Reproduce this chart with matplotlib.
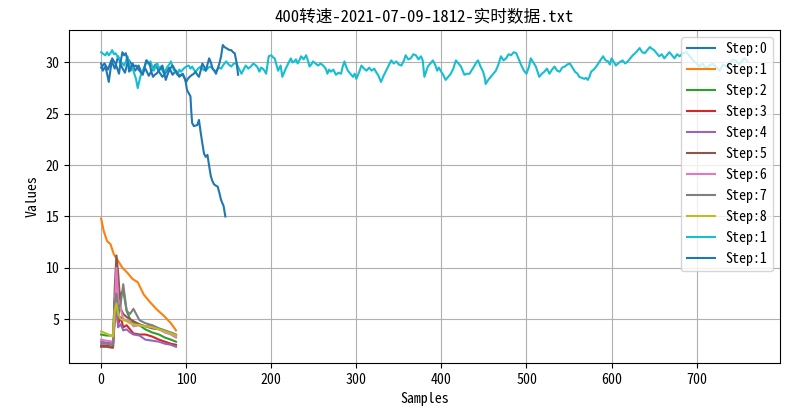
import matplotlib
matplotlib.use('Agg')
import matplotlib.pyplot as plt

plt.rcParams['font.family'] = ['Noto Sans Mono CJK SC', 'Noto Sans CJK SC', 'DejaVu Sans']

title = '400转速-2021-07-09-1812-实时数据.txt'
labels = ['Step:0', 'Step:1', 'Step:2', 'Step:3', 'Step:4', 'Step:5',
          'Step:6', 'Step:7', 'Step:8', 'Step:1', 'Step:1']

# Step:0 - hovers near 30 then falls off
step0_x = [0, 4, 8, 12, 16, 20, 24, 28, 32, 36, 40, 44, 48, 52, 56, 60, 64, 68, 72, 76,
           80, 84, 88, 92, 96, 99, 101, 103, 105, 106, 107, 109, 113, 115, 117, 119, 121,
           123, 125, 127, 129, 131, 133, 137, 139, 141, 144, 146]
step0_y = [29.5, 29.9, 29.3, 30.2, 29.4, 30.6, 29.6, 29.0, 30.3, 29.8, 29.2, 29.7, 28.9,
           29.4, 28.7, 29.3, 29.8, 29.1, 28.6, 29.0, 29.5, 28.8, 29.2, 28.7, 28.8, 28.3,
           27.3, 27.0, 26.7, 25.2, 24.1, 23.8, 23.9, 24.4, 23.2, 22.1, 21.1, 20.8, 21.0,
           19.9, 18.9, 18.4, 18.1, 17.9, 17.3, 16.6, 16.0, 15.0]

# low steps, samples 0..88
step1_x = [0, 3, 7, 11, 15, 19, 25, 31, 37, 43, 50, 58, 66, 74, 82, 88]
step1_y = [14.8, 13.6, 12.6, 12.3, 11.3, 10.8, 10.0, 9.5, 8.9, 8.6, 7.4, 6.6, 5.9, 5.3, 4.6, 3.9]

low_x = [0, 6, 14, 16, 18, 20, 23, 26, 30, 34, 38, 45, 52, 60, 68, 75, 82, 88]
step2_y = [3.5, 3.4, 3.4, 7.0, 6.0, 5.0, 7.5, 7.8, 5.8, 5.0, 4.6, 4.4, 4.0, 3.7, 3.5, 3.2, 3.0, 2.8]
step3_y = [2.4, 2.4, 2.3, 5.0, 6.0, 4.5, 5.2, 4.2, 4.4, 4.0, 3.6, 3.5, 3.5, 3.3, 3.0, 2.8, 2.6, 2.5]
step4_y = [2.8, 2.7, 2.7, 5.0, 6.3, 4.2, 4.5, 3.9, 4.0, 3.7, 3.5, 3.4, 3.0, 2.9, 2.8, 2.6, 2.5, 2.3]
step5_y = [2.3, 2.3, 2.2, 8.0, 11.2, 9.5, 6.0, 5.5, 5.2, 5.0, 4.8, 4.5, 4.3, 4.1, 4.0, 3.8, 3.6, 3.4]
step6_y = [3.0, 2.9, 2.8, 6.0, 10.0, 7.0, 6.0, 5.0, 4.9, 4.8, 4.3, 4.4, 4.3, 4.4, 4.0, 3.7, 3.5, 3.2]
step7_y = [2.6, 2.6, 2.5, 6.5, 7.5, 6.0, 6.5, 8.4, 5.8, 5.5, 6.0, 4.9, 4.6, 4.4, 4.1, 3.9, 3.7, 3.5]
step8_y = [3.8, 3.6, 3.3, 5.8, 6.5, 5.5, 5.0, 4.9, 4.8, 4.6, 4.5, 4.4, 4.3, 4.2, 4.0, 3.8, 3.6, 3.4]

# long run, samples 0..760
step9_x = [0, 3, 5, 7, 9, 11, 13, 15, 17, 19, 21, 24, 27, 29, 31, 33, 35, 37, 39, 41, 43,
           46, 48, 50, 52, 54, 56, 58, 60, 62, 64, 66, 68, 70, 72, 74, 76, 78, 80, 82, 84,
           86, 88, 90, 92, 94, 97, 100, 103, 105, 107, 109, 111, 114, 117, 120, 123, 126,
           129, 132, 135, 138, 141, 144, 147, 150, 153, 156, 159, 162, 165, 168, 170, 173,
           176, 179, 182, 184, 186, 188, 190, 192, 194, 197, 200, 202, 204, 206, 208, 211,
           213, 215, 217, 220, 223, 225, 227, 229, 231, 233, 235, 238, 241, 243, 245, 247,
           249, 252, 255, 258, 261, 264, 266, 268, 270, 273, 276, 279, 282, 284, 286, 288,
           290, 293, 296, 298, 300, 303, 306, 309, 312, 315, 318, 321, 323, 326, 329, 332,
           335, 338, 341, 344, 347, 350, 353, 356, 358, 361, 364, 367, 370, 373, 376, 378,
           380, 382, 384, 387, 390, 393, 395, 397, 399, 402, 405, 408, 411, 414, 417, 420,
           423, 425, 427, 430, 433, 436, 439, 441, 443, 446, 449, 451, 452, 455, 458, 461,
           464, 467, 470, 473, 476, 479, 482, 485, 488, 491, 494, 497, 500, 503, 505, 508,
           511, 513, 515, 518, 521, 524, 527, 530, 533, 536, 539, 542, 545, 548, 551, 554,
           557, 560, 562, 565, 568, 570, 572, 574, 576, 579, 582, 586, 590, 593, 596, 598,
           600, 603, 605, 609, 613, 616, 619, 622, 625, 629, 633, 636, 639, 642, 645, 648,
           650, 653, 656, 659, 662, 665, 668, 671, 674, 677, 680, 684, 688, 692, 696, 700,
           703, 707, 711, 715, 719, 723, 727, 731, 735, 739, 743, 747, 750, 753, 756, 760]
step9_y = [31.0, 30.8, 30.7, 31.0, 30.7, 30.9, 31.2, 30.8, 30.9, 30.6, 30.4, 30.0, 29.7,
           30.1, 30.6, 29.9, 29.2, 29.5, 28.9, 28.4, 27.5, 28.6, 29.0, 29.4, 29.8, 30.2,
           29.8, 30.1, 29.6, 29.2, 29.6, 29.9, 29.4, 29.6, 29.2, 28.9, 29.3, 29.6, 29.8,
           30.1, 29.6, 29.2, 29.0, 28.8, 29.3, 29.1, 29.4, 29.6, 29.7, 29.4, 29.6, 29.3,
           29.1, 29.4, 29.6, 29.3, 29.2, 29.5, 29.6, 29.3, 29.1, 29.5, 29.4, 29.8, 30.1,
           29.8, 29.6, 29.9, 29.9, 29.4, 28.9, 29.4, 29.7, 29.4, 29.6, 29.9, 29.7, 29.5,
           29.1, 29.5, 29.4, 29.2, 28.9, 30.6, 30.7, 30.5, 30.4, 29.8, 29.2, 29.7, 28.6,
           29.0, 29.4, 29.9, 30.4, 30.0, 30.1, 30.3, 29.9, 30.2, 30.6, 30.3, 30.7, 30.2,
           29.6, 29.8, 30.1, 29.9, 29.7, 29.9, 29.7, 29.4, 28.9, 29.3, 29.1, 29.3, 28.8,
           29.0, 28.9, 29.6, 30.1, 29.6, 29.2, 28.9, 28.6, 28.9, 28.4, 29.0, 29.7, 29.4,
           29.2, 29.5, 29.2, 29.4, 29.1, 28.7, 28.1, 28.7, 29.2, 29.7, 30.2, 29.9, 30.1,
           29.8, 29.7, 30.2, 30.7, 30.3, 30.4, 30.8, 30.7, 30.3, 30.6, 30.2, 28.6, 29.1,
           29.6, 29.9, 30.2, 29.7, 29.2, 29.5, 29.2, 28.8, 28.3, 28.6, 28.9, 29.4, 30.2,
           29.9, 29.6, 29.2, 28.8, 28.9, 28.9, 29.3, 29.7, 30.0, 30.2, 29.6, 29.1, 28.5,
           27.9, 28.3, 28.6, 28.9, 29.2, 29.8, 30.6, 30.2, 30.4, 30.8, 30.7, 31.0, 30.9,
           30.3, 29.7, 29.2, 28.9, 29.6, 30.4, 30.0, 29.6, 29.1, 28.6, 28.9, 29.1, 29.4,
           28.9, 29.3, 29.6, 29.2, 29.1, 29.5, 29.6, 29.8, 29.9, 29.5, 29.1, 28.9, 28.6,
           28.5, 28.4, 28.5, 28.3, 28.6, 29.1, 29.3, 29.6, 30.1, 30.6, 30.2, 30.1, 29.8,
           30.4, 30.0, 29.7, 30.0, 30.2, 29.9, 30.1, 30.4, 30.7, 31.0, 31.4, 31.0, 30.9,
           31.2, 31.5, 31.3, 31.2, 30.9, 30.6, 30.8, 30.4, 30.7, 31.0, 30.7, 30.4, 30.8,
           30.6, 30.9, 31.0, 30.6, 30.2, 29.9, 29.6, 29.9, 29.4, 29.7, 29.9, 29.5, 29.2,
           29.8, 29.6, 30.0, 30.3, 30.1, 29.8, 30.1, 30.4, 30.1]

# second long-ish run, samples 0..161
step10_x = [0, 2, 5, 7, 9, 11, 13, 15, 17, 19, 21, 23, 25, 27, 29, 31, 33, 35, 37, 39, 41,
            43, 45, 47, 49, 51, 53, 55, 57, 59, 61, 63, 65, 68, 70, 72, 74, 76, 78, 80,
            82, 84, 86, 88, 90, 92, 94, 96, 98, 100, 102, 104, 107, 109, 111, 113, 115,
            117, 119, 121, 123, 125, 127, 129, 131, 133, 135, 137, 139, 141, 143, 145,
            147, 149, 151, 153, 155, 157, 159, 161]
step10_y = [29.9, 29.2, 29.6, 28.9, 28.1, 29.3, 30.4, 30.1, 29.9, 29.4, 28.9, 30.1, 31.0,
            30.7, 30.9, 30.2, 29.1, 29.5, 29.9, 29.6, 29.7, 29.4, 29.2, 29.0, 28.8, 29.5,
            30.2, 30.0, 29.9, 29.1, 28.6, 28.8, 28.9, 29.2, 29.4, 29.7, 29.0, 28.3, 28.8,
            29.2, 29.5, 29.7, 29.4, 29.1, 28.8, 28.6, 28.8, 28.9, 28.5, 28.1, 28.4, 28.6,
            28.8, 28.9, 29.1, 28.8, 28.6, 29.2, 29.9, 29.6, 29.2, 29.8, 30.4, 30.0, 29.4,
            29.2, 28.9, 29.4, 29.9, 30.6, 31.7, 31.5, 31.4, 31.3, 31.2, 31.2, 31.0, 30.9,
            30.1, 28.8]

series = [
    (step0_x, step0_y), (step1_x, step1_y),
    (low_x, step2_y), (low_x, step3_y), (low_x, step4_y), (low_x, step5_y),
    (low_x, step6_y), (low_x, step7_y), (low_x, step8_y),
    (step9_x, step9_y), (step10_x, step10_y),
]

fig = plt.figure(figsize=(8, 4.09), dpi=100)
ax = fig.add_axes([0.086, 0.1125, 0.889, 0.8145])
for (xs, ys), lab in zip(series, labels):
    ax.plot(xs, ys, label=lab)

ax.set_title(title, fontsize=12)
ax.set_xlabel('Samples')
ax.set_ylabel('Values')
ax.grid(True)
ax.legend(loc='upper right')

plt.savefig('out.png', dpi=100)
